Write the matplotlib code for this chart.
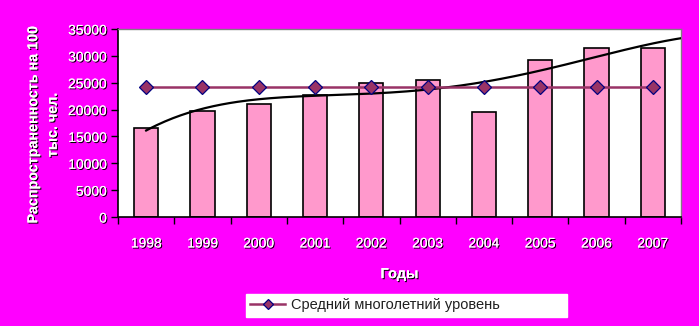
"""Распространенность по годам: столбцы, средний уровень и полиномиальный тренд."""

import numpy as np
import matplotlib
matplotlib.use("Agg")
import matplotlib.pyplot as plt
import matplotlib.patheffects as pe

# ── Данные ──────────────────────────────────────────────────────────────
years = ["1998", "1999", "2000", "2001", "2002", "2003", "2004", "2005", "2006", "2007"]
prevalence = [16500, 19700, 21000, 22700, 25000, 25500, 19500, 29200, 31450, 31450]
mean_level = 24200
y_ticks = [0, 5000, 10000, 15000, 20000, 25000, 30000, 35000]

# ── Стиль ───────────────────────────────────────────────────────────────
BG_COLOR = "#FF00FF"
BAR_COLOR = "#FF99CC"
MEAN_COLOR = "#993366"
MARKER_EDGE = "#000080"

plt.rcParams["font.family"] = ["Liberation Sans", "DejaVu Sans"]

shadow = [pe.withSimplePatchShadow(offset=(0.8, -0.8), shadow_rgbFace="black", alpha=1.0),
          pe.Normal()]

fig = plt.figure(figsize=(6.99, 3.26), dpi=100, facecolor=BG_COLOR)
ax = fig.add_axes([118 / 699, 1 - 217 / 326, 563 / 699, 188 / 326])
ax.set_facecolor("white")

x = np.arange(len(years))
ax.bar(x, prevalence, width=0.43, color=BAR_COLOR, edgecolor="black",
       linewidth=1.2, zorder=2)

# Полиномиальный тренд (4-я степень) с прогнозом на полпериода вперёд
coef = np.polyfit(x, prevalence, 4)
xt = np.linspace(0, len(years) - 0.5, 200)
ax.plot(xt, np.polyval(coef, xt), color="black", linewidth=1.6, zorder=3)

ax.plot(x, [mean_level] * len(years), color=MEAN_COLOR, linewidth=1.8,
        marker="D", markersize=7, markerfacecolor=MEAN_COLOR,
        markeredgecolor=MARKER_EDGE, markeredgewidth=0.9, zorder=4,
        label="Средний многолетний уровень")

# Оси
ax.set_xlim(-0.5, len(years) - 0.5)
ax.set_ylim(0, 35000)
ax.set_yticks(y_ticks)
ax.set_yticklabels([str(v) for v in y_ticks], fontsize=10, color="white")
for lbl in ax.get_yticklabels():
    lbl.set_path_effects(shadow)

ax.set_xticks(np.arange(-0.5, len(years), 1.0))
ax.set_xticklabels([])
ax.set_xticks(x, minor=True)
ax.set_xticklabels(years, minor=True, fontsize=10, color="white")
for lbl in ax.get_xticklabels(minor=True):
    lbl.set_path_effects(shadow)
ax.tick_params(axis="x", which="major", direction="out", length=5, width=1, color="black")
ax.tick_params(axis="x", which="minor", length=0, pad=14)
ax.tick_params(axis="y", direction="out", length=5, width=1, color="black", pad=3)

for side in ("top", "right"):
    ax.spines[side].set_color("#808080")
    ax.spines[side].set_linewidth(1)
for side in ("left", "bottom"):
    ax.spines[side].set_color("black")
    ax.spines[side].set_linewidth(1.2)

ax.set_xlabel("Годы", fontsize=10.5, fontweight="bold", color="white", labelpad=12,
              path_effects=shadow)
fig.text(43 / 699, 1 - 125 / 326, "Распространенность на 100\nтыс. чел.",
         rotation=90, ha="center", va="center", fontsize=10.3, fontweight="bold",
         color="white", linespacing=1.5, path_effects=shadow)

leg = ax.legend(loc="center", bbox_to_anchor=(246 / 699, 1 - 318 / 326, 321 / 699, 25 / 326),
                bbox_transform=fig.transFigure, mode="expand", borderaxespad=0,
                frameon=True, fancybox=False, framealpha=1, edgecolor="white",
                facecolor="white", fontsize=10.5, handlelength=2.4,
                handletextpad=0.4, borderpad=0.3, markerscale=0.8)
for t in leg.get_texts():
    t.set_color("#202020")

fig.savefig("out.png", dpi=100, facecolor=fig.get_facecolor())
